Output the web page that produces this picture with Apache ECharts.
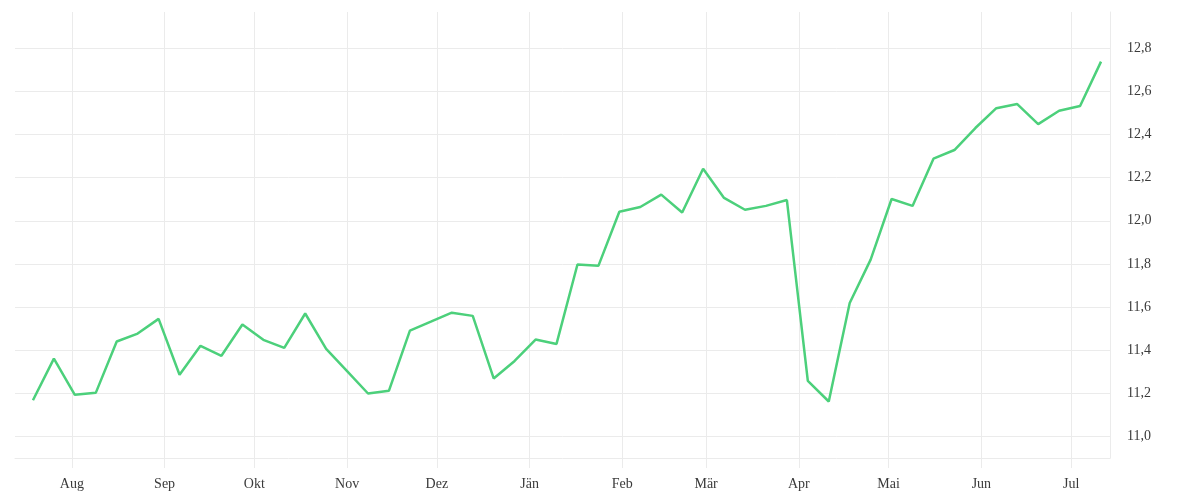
<!DOCTYPE html>
<html>
<head>
<meta charset="utf-8">
<script src="https://cdn.jsdelivr.net/npm/echarts@6/dist/echarts.min.js"></script>
<style>
  html, body { margin: 0; padding: 0; background: #ffffff; }
  #chart { width: 1200px; height: 500px; }
</style>
</head>
<body>
<div id="chart"></div>
<script>
const dates = [
  '2022-07-19','2022-07-26','2022-08-02','2022-08-09','2022-08-16','2022-08-23','2022-08-30',
  '2022-09-06','2022-09-13','2022-09-20','2022-09-27','2022-10-04','2022-10-11','2022-10-18',
  '2022-10-25','2022-11-01','2022-11-08','2022-11-15','2022-11-22','2022-11-29','2022-12-06',
  '2022-12-13','2022-12-20','2022-12-27','2023-01-03','2023-01-10','2023-01-17','2023-01-24',
  '2023-01-31','2023-02-07','2023-02-14','2023-02-21','2023-02-28','2023-03-07','2023-03-14',
  '2023-03-21','2023-03-28','2023-04-04','2023-04-11','2023-04-18','2023-04-25','2023-05-02',
  '2023-05-09','2023-05-16','2023-05-23','2023-05-30','2023-06-06','2023-06-13','2023-06-20',
  '2023-06-27','2023-07-04','2023-07-11'
];
const values = [
  11.168, 11.361, 11.193, 11.202, 11.440, 11.477, 11.545,
  11.286, 11.420, 11.374, 11.519, 11.448, 11.411, 11.570,
  11.406, 11.303, 11.199, 11.212, 11.491, 11.532, 11.574,
  11.559, 11.269, 11.350, 11.449, 11.429, 11.797, 11.791,
  12.042, 12.064, 12.121, 12.038, 12.241, 12.106, 12.051,
  12.069, 12.096, 11.258, 11.162, 11.619, 11.820, 12.101,
  12.069, 12.288, 12.328, 12.430, 12.522, 12.541, 12.448,
  12.510, 12.532, 12.738
];
const monthLabels = ['Jän','Feb','Mär','Apr','Mai','Jun','Jul','Aug','Sep','Okt','Nov','Dez'];
const yTicks = [11.0, 11.2, 11.4, 11.6, 11.8, 12.0, 12.2, 12.4, 12.6, 12.8];
const xRange = ['2022-07-13', '2023-07-14'];
const yRange = [10.9, 12.968];

const seriesData = dates.map((d, i) => [d, values[i]]);
const gridColor = '#ebebeb';
const textColor = '#3a3a3a';
const fontFamily = '"Liberation Serif", "DejaVu Serif", serif';

const chart = echarts.init(document.getElementById('chart'), null, { renderer: 'canvas' });
chart.setOption({
  animation: false,
  backgroundColor: '#ffffff',
  grid: { left: 15, right: 90, top: 12, bottom: 42, containLabel: false },
  xAxis: {
    type: 'time',
    min: xRange[0],
    max: xRange[1],
    minInterval: 28 * 86400000,
    maxInterval: 31 * 86400000,
    axisLine: { show: true, lineStyle: { color: gridColor, width: 1 } },
    axisTick: { show: true, length: 10, lineStyle: { color: gridColor, width: 1 } },
    splitLine: { show: true, showMinLine: false, lineStyle: { color: gridColor, width: 1 } },
    axisLabel: {
      color: textColor,
      fontFamily: fontFamily,
      fontSize: 14,
      margin: 19,
      hideOverlap: false,
      formatter: function (val) {
        return monthLabels[new Date(val).getMonth()];
      }
    }
  },
  yAxis: {
    type: 'value',
    position: 'right',
    min: yRange[0],
    max: yRange[1],
    axisLine: { show: true, lineStyle: { color: gridColor, width: 1 } },
    axisTick: { show: false, customValues: yTicks },
    splitLine: { show: true, lineStyle: { color: gridColor, width: 1 } },
    axisLabel: {
      color: textColor,
      fontFamily: fontFamily,
      fontSize: 14,
      margin: 17,
      customValues: yTicks,
      formatter: function (v) { return v.toFixed(1).replace('.', ','); }
    }
  },
  series: [{
    type: 'line',
    data: seriesData,
    showSymbol: false,
    symbol: 'none',
    lineStyle: { color: '#4cd07b', width: 2.5 },
    itemStyle: { color: '#4cd07b' }
  }]
});
</script>
</body>
</html>
